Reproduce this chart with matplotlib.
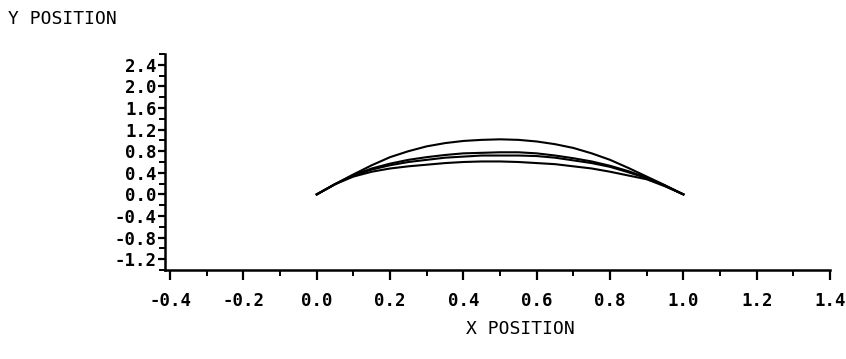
import matplotlib
matplotlib.use("Agg")
import matplotlib.pyplot as plt
from matplotlib.ticker import MultipleLocator, FormatStrFormatter

# sampled x positions shared by all trajectories
x_pos = [0.0, 0.05, 0.1, 0.15, 0.2, 0.25, 0.3, 0.35, 0.4, 0.45, 0.5,
         0.55, 0.6, 0.65, 0.7, 0.75, 0.8, 0.85, 0.9, 0.95, 1.0]

y_top = [0.0, 0.19, 0.37, 0.54, 0.69, 0.80, 0.89, 0.95, 0.99, 1.01, 1.02,
         1.01, 0.98, 0.93, 0.86, 0.76, 0.64, 0.49, 0.33, 0.17, 0.0]
y_mid_hi = [0.0, 0.19, 0.36, 0.48, 0.57, 0.64, 0.69, 0.73, 0.76, 0.77, 0.78,
            0.78, 0.76, 0.72, 0.67, 0.61, 0.53, 0.43, 0.31, 0.16, 0.0]
y_mid_lo = [0.0, 0.19, 0.35, 0.46, 0.54, 0.60, 0.64, 0.68, 0.70, 0.72, 0.72,
            0.72, 0.71, 0.68, 0.63, 0.58, 0.51, 0.41, 0.30, 0.16, 0.0]
y_low = [0.0, 0.19, 0.33, 0.42, 0.48, 0.52, 0.55, 0.58, 0.60, 0.61, 0.61,
         0.60, 0.58, 0.56, 0.52, 0.48, 0.42, 0.35, 0.28, 0.15, 0.0]

plt.rcParams['font.family'] = ['DejaVu Sans Mono', 'DejaVu Sans']

fig = plt.figure(figsize=(8.46, 3.59), dpi=100)
ax = fig.add_axes([165 / 846, 89 / 359, 665 / 846, 216 / 359])

for ys in (y_top, y_mid_hi, y_mid_lo, y_low):
    ax.plot(x_pos, ys, color='black', lw=1.5)

ax.set_xlim(-0.414, 1.4)
ax.set_ylim(-1.4, 2.6)
ax.xaxis.set_major_locator(MultipleLocator(0.2))
ax.xaxis.set_minor_locator(MultipleLocator(0.1))
ax.yaxis.set_minor_locator(MultipleLocator(0.2))
ax.set_yticks([-1.2, -0.8, -0.4, 0.0, 0.4, 0.8, 1.2, 1.6, 2.0, 2.4])
ax.xaxis.set_major_formatter(FormatStrFormatter('%.1f'))
ax.yaxis.set_major_formatter(FormatStrFormatter('%.1f'))

for side in ('top', 'right'):
    ax.spines[side].set_visible(False)
for side in ('left', 'bottom'):
    ax.spines[side].set_linewidth(1.8)

ax.tick_params(which='major', direction='out', length=7, width=1.6, labelsize=12.5)
ax.tick_params(which='minor', direction='out', length=4, width=1.4)
ax.tick_params(axis='x', which='major', pad=9)
ax.tick_params(axis='y', which='major', length=5, pad=1)
for lbl in ax.get_xticklabels() + ax.get_yticklabels():
    lbl.set_fontweight('bold')

fig.text(8 / 846, 1 - 19 / 359, 'Y POSITION', fontsize=13, va='center', ha='left')
fig.text(520 / 846, 1 - 329 / 359, 'X POSITION', fontsize=13, va='center', ha='center')

fig.savefig('out.png', dpi=100)
